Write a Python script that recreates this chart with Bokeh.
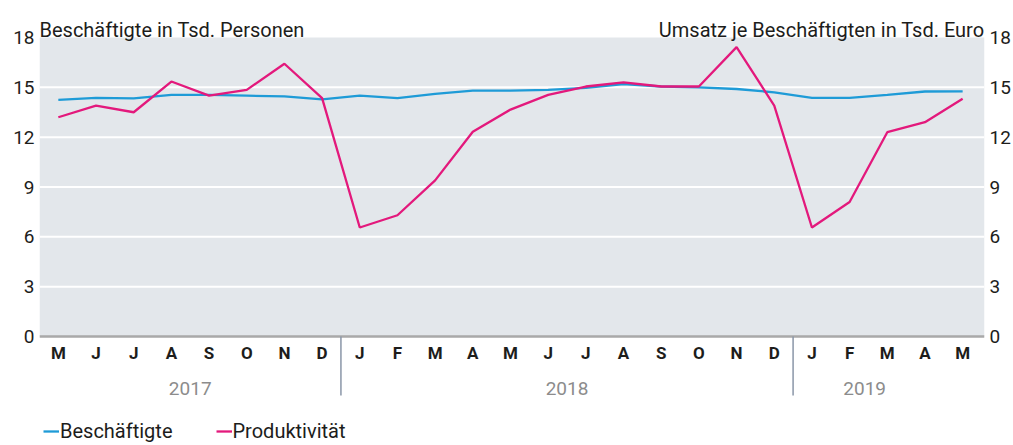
from bokeh.plotting import figure
from bokeh.models import Range1d, LinearAxis, FixedTicker, Legend, LegendItem, ColumnDataSource
from bokeh.core.properties import value
from bokeh.embed import file_html
from bokeh.resources import INLINE

# ---- data ----
months = ["M", "J", "J", "A", "S", "O", "N", "D",
          "J", "F", "M", "A", "M", "J", "J", "A", "S", "O", "N", "D",
          "J", "F", "M", "A", "M"]
years = ["2017", "2018", "2019"]
year_centers = [3.5, 13.5, 21.4]
year_breaks = [7.5, 19.5]
beschaeftigte = [14.25, 14.37, 14.33, 14.55, 14.55, 14.5, 14.45, 14.27,
                 14.5, 14.35, 14.6, 14.8, 14.8, 14.85, 14.97, 15.2, 15.05, 15.0, 14.9, 14.7,
                 14.37, 14.37, 14.55, 14.75, 14.76]
produktivitaet = [13.2, 13.9, 13.5, 15.35, 14.5, 14.85, 16.42, 14.35,
                  6.56, 7.3, 9.4, 12.33, 13.66, 14.55, 15.05, 15.3, 15.05, 15.05, 17.42, 13.9,
                  6.56, 8.1, 12.3, 12.9, 14.31]
y_ticks = [0, 3, 6, 9, 12, 15, 18]
title_left = "Beschäftigte in Tsd. Personen"
title_right = "Umsatz je Beschäftigten in Tsd. Euro"
names = ["Beschäftigte", "Produktivität"]

# ---- style ----
W, H = 1013, 445
FONT = value("Roboto")
DARK = "#1d1d1b"
BLUE = "#1e9bd7"
PINK = "#e3197c"
BG = "#e3e7eb"
X0, X1 = -0.5, 24.58
Y_TOP_PX, Y_ZERO_PX = 37, 336
ppu = (Y_ZERO_PX - Y_TOP_PX) / 18.0
y_end = 18 + Y_TOP_PX / ppu
y_start = -(H - Y_ZERO_PX) / ppu

p = figure(width=W, height=H, output_backend="svg", toolbar_location=None,
           x_range=Range1d(X0, X1), y_range=Range1d(y_start, y_end),
           x_axis_location=None, y_axis_location=None,
           min_border_left=39, min_border_right=26, min_border_top=0, min_border_bottom=0)
p.extra_y_ranges = {"px": Range1d(start=H, end=0)}
p.outline_line_color = None
p.xgrid.visible = False
p.ygrid.visible = False
p.background_fill_color = "white"
p.border_fill_color = "white"

# plot area background
p.quad(left=[X0], right=[X1], bottom=[0], top=[18], fill_color=BG, line_color=None)
# gridlines
grid_vals = y_ticks[1:-1]
p.segment(x0=[X0] * len(grid_vals), x1=[X1] * len(grid_vals), y0=grid_vals, y1=grid_vals,
          line_color="white", line_width=2)
# zero axis line
p.segment(x0=[X0], x1=[X1], y0=[0], y1=[0], line_color="#a9a9a9", line_width=2.5)

# lines
xs = list(range(len(months)))
src = ColumnDataSource(dict(x=xs, b=beschaeftigte, pr=produktivitaet, m=months))
rb = p.line("x", "b", source=src, line_color=BLUE, line_width=2.3)
rp = p.line("x", "pr", source=src, line_color=PINK, line_width=2.3)

# y axes
for side in ("left", "right"):
    ax = LinearAxis(ticker=FixedTicker(ticks=y_ticks))
    ax.axis_line_color = None
    ax.major_tick_line_color = None
    ax.minor_tick_line_color = None
    ax.major_tick_out = 0
    ax.major_tick_in = 0
    ax.minor_tick_out = 0
    ax.minor_tick_in = 0
    ax.major_label_text_font = "Roboto"
    ax.major_label_text_font_size = "19px"
    ax.major_label_text_color = DARK
    ax.major_label_standoff = 5
    p.add_layout(ax, side)

# month labels
p.text(x="x", y=352, text="m", source=src, y_range_name="px",
       text_font=FONT, text_font_size="17px", text_font_style="bold",
       text_color=DARK, text_align="center", text_baseline="middle")
# year separators
p.segment(x0=year_breaks, x1=year_breaks, y0=[Y_ZERO_PX] * 2, y1=[395] * 2,
          y_range_name="px", line_color="#8a96a8", line_width=1.5)
# year labels
p.text(x=year_centers, y=[388] * 3, text=years, y_range_name="px",
       text_font=FONT, text_font_size="19px", text_color="#8c8c8c",
       text_align="center", text_baseline="middle")
# titles
p.text(x=[X0], y=[29], text=[title_left], y_range_name="px",
       text_font=FONT, text_font_size="20px", text_color=DARK,
       text_align="left", text_baseline="alphabetic")
p.text(x=[X1], y=[29], text=[title_right], y_range_name="px",
       text_font=FONT, text_font_size="20px", text_color=DARK,
       text_align="right", text_baseline="alphabetic")

legend = Legend(items=[LegendItem(label=names[0], renderers=[rb]),
                       LegendItem(label=names[1], renderers=[rp])],
                location=(4, 2), orientation="horizontal")
legend.label_text_font = "Roboto"
legend.label_text_font_size = "20px"
legend.label_text_color = DARK
legend.glyph_width = 16
legend.label_standoff = 1
legend.spacing = 43
legend.padding = 0
legend.margin = 0
legend.border_line_alpha = 0
legend.background_fill_alpha = 0
p.add_layout(legend)

open("out.html", "w").write(file_html(p, INLINE))
